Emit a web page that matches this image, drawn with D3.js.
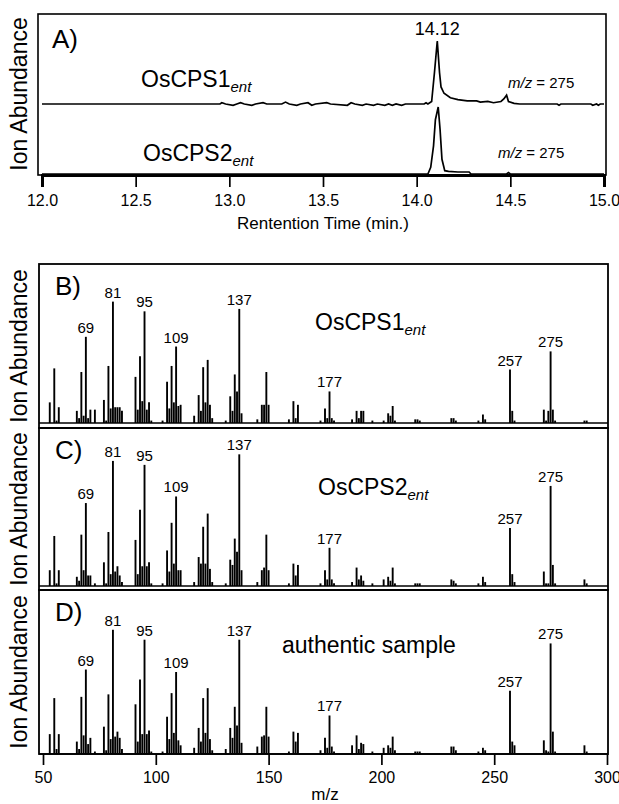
<!DOCTYPE html>
<html>
<head>
<meta charset="utf-8">
<script src="https://cdn.jsdelivr.net/npm/d3@7"></script>
<style>
  body { margin: 0; background: #fff; }
  svg { display: block; }
  text { font-family: "Liberation Sans", Arial, Helvetica, sans-serif; fill: #000; }
</style>
</head>
<body>
<svg id="fig" width="619" height="804"></svg>
<script>
// ---- panel A: chromatograms (retention time in min, % of peak apex)
var timeTicks = [12.0, 12.5, 13.0, 13.5, 14.0, 14.5, 15.0];
var timesCPS1 = [12.00, 12.95, 12.96, 12.98, 13.02, 13.04, 13.06, 13.08, 13.12, 13.14, 13.18, 13.20,
  13.28, 13.30, 13.32, 13.36, 13.38, 13.42, 13.44, 13.46, 13.52, 13.54, 13.63, 13.65, 13.67, 13.71,
  13.73, 13.77, 13.79, 13.83, 13.85, 13.87, 13.89, 13.92, 13.94, 14.04, 14.05, 14.06, 14.08, 14.095,
  14.11, 14.122, 14.13, 14.146, 14.18, 14.22, 14.27, 14.32, 14.34, 14.38, 14.41, 14.45, 14.465, 14.48,
  14.49, 14.52, 14.55, 14.75, 14.76, 14.77, 14.93, 14.94, 14.96, 14.97, 14.98, 15.00];
var abundCPS1 = [0, 0, 2, 0, -2, 0, 2, 0, -2, 0, 2, 0,
  0, 3, 0, -2, 0, 2, -2, 0, 2, 0, -2, 2, 0, -2,
  0, -2, 0, -2, 0, -2, 0, -2, 0, 0, 2, 0, 4, 50,
  100, 50, 27, 17, 10, 7, 5, 5, 3, 4, 2, 4, 8, 14,
  4, 1, 0, 0, -2, 0, 0, -2, 0, -2, 0, 0];
var timesCPS2 = [12.00, 14.06, 14.075, 14.09, 14.10, 14.115, 14.125, 14.135, 14.15, 14.17, 14.22,
  14.28, 14.29, 14.48, 14.49, 14.50, 15.00];
var abundCPS2 = [0, 0, 10, 42, 81, 100, 66, 22, 5, 4, 3, 3, 0, 0, 2, 0, 0];

// ---- panels B-D: mass spectra (% of base peak)
var mzTicks = [50, 100, 150, 200, 250, 300];
var mzValues = [53, 55, 56, 57, 65, 66, 67, 68, 69, 70, 71, 73, 77, 78, 79, 80, 81, 82, 83, 84, 85,
  91, 92, 93, 94, 95, 96, 97, 98, 103, 105, 106, 107, 108, 109, 110, 111, 117, 119, 120, 121, 122,
  123, 124, 125, 131, 133, 134, 135, 136, 137, 138, 145, 147, 148, 149, 150, 159, 161, 162, 163,
  173, 175, 176, 177, 178, 179, 187, 189, 190, 191, 192, 196, 201, 203, 204, 205, 206, 215, 216,
  217, 231, 232, 233, 243, 245, 246, 257, 258, 259, 272, 273, 274, 275, 276, 277, 290, 291];
var intensCPS1 = [17, 45, 2, 13, 10, 4, 42, 6, 71, 4, 11, 11, 19, 2, 47, 12, 100, 13, 13, 13, 10,
  38, 11, 55, 18, 92, 11, 17, 2, 2, 34, 12, 47, 17, 63, 14, 15, 6, 23, 10, 46, 17,
  52, 15, 4, 2, 22, 10, 40, 26, 94, 8, 3, 15, 15, 42, 15, 3, 18, 4, 15,
  2, 12, 4, 26, 4, 2, 3, 10, 4, 10, 10, 2, 2, 8, 6, 14, 2, 3, 3,
  2, 4, 4, 2, 2, 7, 3, 44, 10, 2, 11, 2, 10, 59, 11, 2, 2, 2];
var intensCPS2 = [12, 38, 2, 12, 7, 4, 39, 12, 63, 8, 8, 2, 18, 2, 41, 9, 95, 11, 15, 8, 3,
  35, 9, 58, 15, 92, 15, 18, 2, 2, 27, 11, 48, 17, 68, 12, 12, 3, 22, 17, 45, 17,
  55, 13, 3, 2, 20, 16, 36, 26, 100, 12, 3, 12, 14, 39, 12, 2, 17, 8, 16,
  2, 12, 5, 29, 5, 2, 3, 14, 5, 8, 4, 2, 5, 7, 4, 14, 2, 2, 2,
  2, 5, 4, 2, 2, 7, 3, 44, 9, 3, 11, 2, 2, 76, 16, 2, 5, 2];
var intensAuth = [16, 45, 4, 16, 10, 4, 46, 15, 68, 8, 13, 2, 22, 3, 48, 12, 100, 14, 18, 13, 4,
  40, 10, 60, 16, 92, 16, 19, 2, 2, 30, 12, 49, 17, 66, 11, 7, 5, 21, 10, 45, 17,
  53, 12, 3, 4, 21, 13, 38, 23, 92, 9, 6, 14, 15, 38, 14, 2, 18, 10, 17,
  3, 13, 5, 31, 6, 2, 7, 15, 4, 9, 8, 2, 5, 7, 5, 14, 3, 2, 2,
  2, 6, 6, 3, 2, 5, 3, 51, 10, 7, 11, 3, 2, 89, 18, 2, 7, 2];
var labelledMz = [69, 81, 95, 109, 137, 177, 257, 275];

var svg = d3.select('#fig');
svg.append('rect').attr('width', 619).attr('height', 804).attr('fill', '#fff');

function yLabel(cy) {
  svg.append('text')
    .attr('transform', 'translate(27,' + cy + ') rotate(-90)')
    .attr('text-anchor', 'middle')
    .attr('font-size', '23px')
    .text('Ion Abundance');
}

function sampleName(x, y, name, sub) {
  var t = svg.append('text').attr('x', x).attr('y', y).attr('font-size', '23px');
  t.append('tspan').text(name);
  if (sub) {
    t.append('tspan').attr('dy', 5).attr('font-size', '15px')
      .attr('font-style', 'italic').text(sub);
  }
}

function mzNote(x, y) {
  var t = svg.append('text').attr('x', x).attr('y', y).attr('font-size', '15px');
  t.append('tspan').attr('font-style', 'italic').text('m/z');
  t.append('tspan').text(' = 275');
}

// ---------- panel A
var xTime = d3.scaleLinear().domain([12, 15]).range([42, 604]);
var yTop = d3.scaleLinear().domain([0, 100]).range([104, 41]);
var yBot = d3.scaleLinear().domain([0, 100]).range([174, 107]);

svg.append('rect').attr('x', 38).attr('y', 14).attr('width', 568).attr('height', 161)
  .attr('fill', 'none').attr('stroke', '#000').attr('stroke-width', 1.6);

var traceTop = d3.line().x(function(d) { return xTime(d[0]); }).y(function(d) { return yTop(d[1]); });
var traceBot = d3.line().x(function(d) { return xTime(d[0]); }).y(function(d) { return yBot(d[1]); });

svg.append('path').datum(d3.zip(timesCPS1, abundCPS1)).attr('d', traceTop)
  .attr('fill', 'none').attr('stroke', '#000').attr('stroke-width', 1.7);
svg.append('path').datum(d3.zip(timesCPS2, abundCPS2)).attr('d', traceBot)
  .attr('fill', 'none').attr('stroke', '#000').attr('stroke-width', 1.7);

var axisTime = svg.append('g').attr('transform', 'translate(0,175)')
  .call(d3.axisBottom(xTime).tickValues(timeTicks).tickFormat(d3.format('.1f'))
    .tickSize(12).tickPadding(8));
axisTime.select('.domain').attr('stroke-width', 3);
axisTime.selectAll('.tick line').attr('stroke-width', 1.7);
axisTime.selectAll('text').attr('font-size', '16px')
  .attr('font-family', '"Liberation Sans", Arial, sans-serif');

svg.append('text').attr('x', 323).attr('y', 229).attr('text-anchor', 'middle')
  .attr('font-size', '17px').text('Rentention Time (min.)');

svg.append('text').attr('x', 52).attr('y', 48).attr('font-size', '26px').text('A)');
var apex = d3.zip(timesCPS1, abundCPS1).reduce(function(a, b) { return b[1] > a[1] ? b : a; });
svg.append('text').attr('x', xTime(apex[0])).attr('y', yTop(apex[1]) - 6)
  .attr('text-anchor', 'middle').attr('font-size', '18px').text('14.12');
sampleName(141, 87, 'OsCPS1', 'ent');
sampleName(143, 161, 'OsCPS2', 'ent');
mzNote(508, 88);
mzNote(498, 158);
yLabel(94);

// ---------- panels B-D
var xMz = d3.scaleLinear().domain([50, 300]).range([43, 607]);

var panels = [
  {letter: 'B)', vals: intensCPS1, top: 264, base: 423, bottom: 428, yMax: 131,
    name: 'OsCPS1', sub: 'ent', nx: 315, ny: 330},
  {letter: 'C)', vals: intensCPS2, top: 428, base: 586, bottom: 590, yMax: 120,
    name: 'OsCPS2', sub: 'ent', nx: 318, ny: 495},
  {letter: 'D)', vals: intensAuth, top: 590, base: 754, bottom: 754, yMax: 132,
    name: 'authentic sample', sub: null, nx: 282, ny: 653}
];

panels.forEach(function(p) {
  var y = d3.scaleLinear().domain([0, p.yMax]).range([p.base, p.top]);
  var g = svg.append('g');

  g.append('rect').attr('x', 39).attr('y', p.top).attr('width', 569).attr('height', p.bottom - p.top)
    .attr('fill', 'none').attr('stroke', '#000').attr('stroke-width', 1.8);

  g.append('line').attr('x1', 39).attr('x2', 608).attr('y1', y(0)).attr('y2', y(0))
    .attr('stroke', '#000').attr('stroke-width', 1.4);

  var data = d3.zip(mzValues, p.vals);
  g.selectAll('line.stick').data(data).enter().append('line')
    .attr('class', 'stick')
    .attr('x1', function(d) { return xMz(d[0]); })
    .attr('x2', function(d) { return xMz(d[0]); })
    .attr('y1', y(0))
    .attr('y2', function(d) { return y(d[1]); })
    .attr('stroke', '#000').attr('stroke-width', 1.9);

  g.selectAll('text.peak').data(data.filter(function(d) { return labelledMz.indexOf(d[0]) >= 0; }))
    .enter().append('text')
    .attr('class', 'peak')
    .attr('x', function(d) { return xMz(d[0]); })
    .attr('y', function(d) { return y(d[1]) - 4; })
    .attr('text-anchor', 'middle')
    .attr('font-size', '15px')
    .text(function(d) { return d[0]; });

  svg.append('text').attr('x', 55).attr('y', p.top + 31).attr('font-size', '26px').text(p.letter);
  sampleName(p.nx, p.ny, p.name, p.sub);
  yLabel((p.top + p.bottom) / 2);
});

var axisMz = svg.append('g').attr('transform', 'translate(0,754)')
  .call(d3.axisBottom(xMz).tickValues(mzTicks).tickSize(11).tickPadding(7));
axisMz.select('.domain').remove();
axisMz.selectAll('.tick line').attr('stroke-width', 1.7);
axisMz.selectAll('text').attr('font-size', '16px')
  .attr('font-family', '"Liberation Sans", Arial, sans-serif');

svg.append('text').attr('x', 325).attr('y', 800).attr('text-anchor', 'middle')
  .attr('font-size', '17px').text('m/z');
</script>
</body>
</html>
